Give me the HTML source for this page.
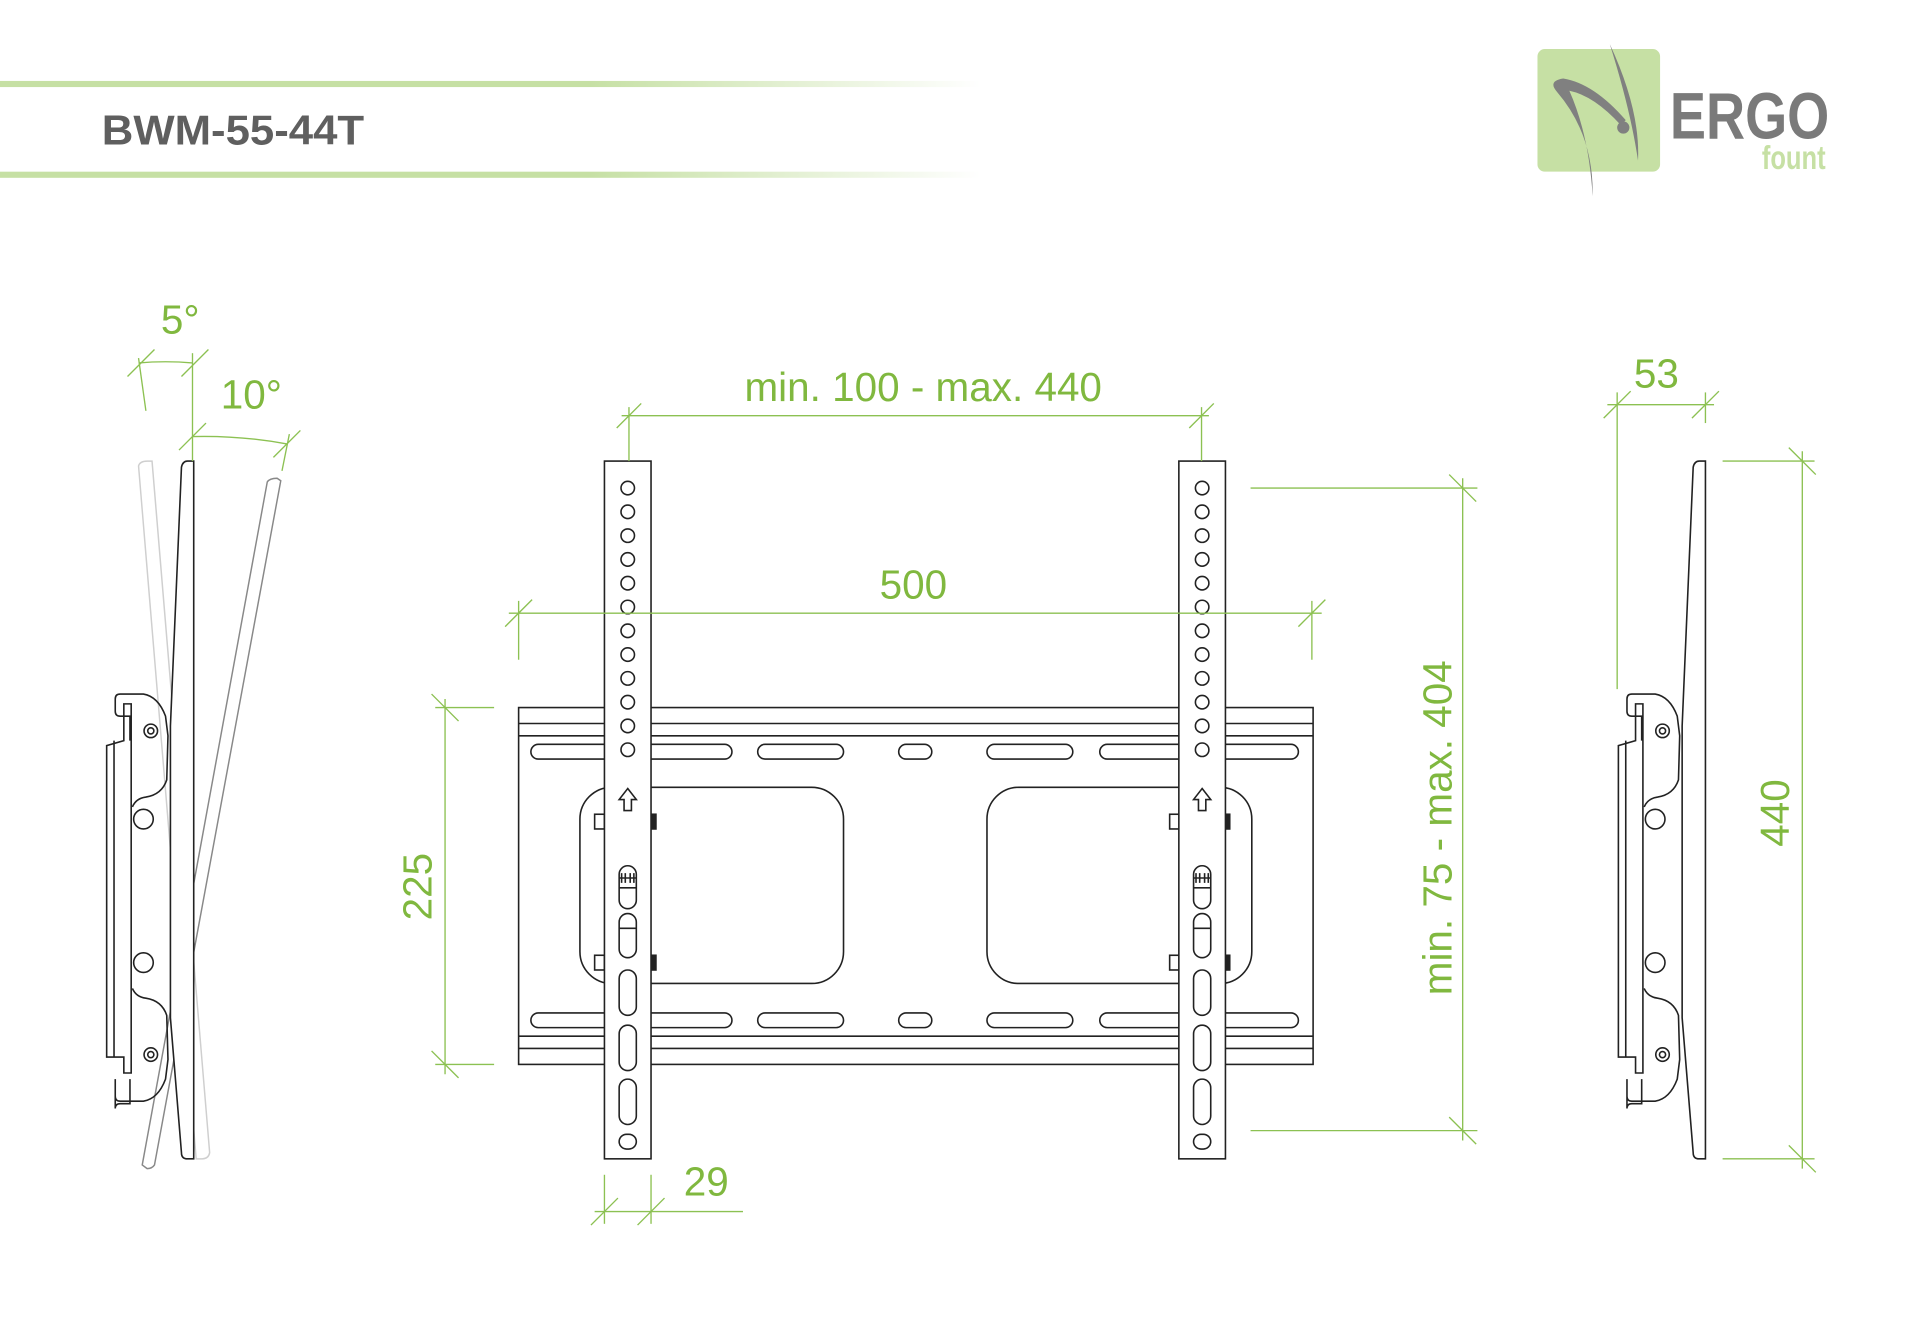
<!DOCTYPE html>
<html><head><meta charset="utf-8"><style>
html,body{margin:0;padding:0;background:#fff;}
svg{display:block;}
text{font-family:"Liberation Sans",sans-serif;}
</style></head><body>
<svg width="1920" height="1344" viewBox="0 0 1566 1096" preserveAspectRatio="none" xmlns="http://www.w3.org/2000/svg">
<defs>
<linearGradient id="hg" x1="0" x2="1" y1="0" y2="0">
<stop offset="0" stop-color="#c6e0a4"/><stop offset="0.6" stop-color="#c6e0a4"/><stop offset="1" stop-color="#fff"/>
</linearGradient>
<g id="side" fill="none" stroke="#222" stroke-width="1.3">
  <path d="M1391 376 L1391 945 L1386 945 Q1381 945 1381 940 L1372 830 L1372 592 L1381 381 Q1382 376 1386 376 Z" fill="#fff"/>
  <path d="M1339 604 L1339 584 L1331 584 Q1327 584 1327 580 L1327 570 Q1327 566 1331 566 L1350 566 Q1362 568 1368 584 L1370 600 L1369 636 Q1365 648 1352 650 Q1344 651 1341 658"/>
  <path d="M1339 880 L1339 900 L1331 900 Q1327 900 1327 904 L1327 894 M1327 880 L1327 894 Q1327 898 1331 898 L1350 898 Q1362 896 1368 880 L1370 864 L1369 828 Q1365 816 1352 814 Q1344 813 1341 806"/>
  <path d="M1320 608 L1320 862 L1334 862 L1334 875 L1340 875 L1340 574 L1334 574 L1334 604 Z"/>
  <line x1="1326" y1="604" x2="1326" y2="862"/>
  <circle cx="1356" cy="596" r="5.5"/><circle cx="1356" cy="596" r="2.5"/>
  <circle cx="1356" cy="860" r="5.5"/><circle cx="1356" cy="860" r="2.5"/>
  <circle cx="1350" cy="668" r="8"/><circle cx="1350" cy="785" r="8"/>
</g>
</defs>
<rect x="0" y="66" width="800" height="5" fill="url(#hg)"/>
<rect x="0" y="140" width="800" height="5" fill="url(#hg)"/>
<text x="83" y="118" font-size="34" font-weight="bold" fill="#5f5f5f" textLength="214" lengthAdjust="spacingAndGlyphs">BWM-55-44T</text>
<rect x="1254" y="40" width="100" height="100" rx="6" fill="#c6e0a4"/>
<path d="M1313 36 Q1338 90 1336 131 Q1330 90 1313 36 Z" fill="#808080"/>
<path d="M1299 160 Q1300 110 1270 75 Q1262 66 1275 64 Q1300 68 1326 98 L1322 102 Q1300 78 1280 74 Q1296 110 1299 160 Z" fill="#808080"/>
<circle cx="1324" cy="104" r="5" fill="#808080"/>
<text x="1362" y="113" font-size="54" font-weight="bold" fill="#7a7a7a" textLength="130" lengthAdjust="spacingAndGlyphs">ERGO</text>
<text x="1437" y="138" font-size="27" font-weight="bold" fill="#c6e0a4" textLength="52" lengthAdjust="spacingAndGlyphs">fount</text>

<use href="#side"/>
<g fill="none" stroke-width="1.2">
  <path d="M113 380 Q114 376 120 376 L124 376 L171 940 Q170 945 165 945 L160 945 Z" stroke="#cfcfcf"/>
  <path d="M218 393 Q220 390 226 390 L229 392 L126 950 Q124 953 120 953 L116 950 Z" stroke="#888"/>
</g>
<use href="#side" transform="translate(-1233 0)"/>

<g fill="#fff" stroke="#222" stroke-width="1.3">
  <rect x="423" y="577" width="648" height="291" />
  <line x1="423" y1="590" x2="1071" y2="590"/><line x1="423" y1="600" x2="1071" y2="600"/>
  <line x1="423" y1="845" x2="1071" y2="845"/><line x1="423" y1="855" x2="1071" y2="855"/>
  <rect x="433" y="607" width="164" height="12" rx="6"/><rect x="618" y="607" width="70" height="12" rx="6"/>
  <rect x="733" y="607" width="27" height="12" rx="6"/><rect x="805" y="607" width="70" height="12" rx="6"/>
  <rect x="897" y="607" width="162" height="12" rx="6"/>
  <rect x="433" y="826" width="164" height="12" rx="6"/><rect x="618" y="826" width="70" height="12" rx="6"/>
  <rect x="733" y="826" width="27" height="12" rx="6"/><rect x="805" y="826" width="70" height="12" rx="6"/>
  <rect x="897" y="826" width="162" height="12" rx="6"/>
  <rect x="473" y="642" width="215" height="160" rx="26"/>
  <rect x="805" y="642" width="216" height="160" rx="26"/>
  <rect x="485" y="664" width="8" height="12"/><rect x="485" y="779" width="8" height="12"/>
  <rect x="531" y="664" width="4" height="12" fill="#222"/><rect x="531" y="779" width="4" height="12" fill="#222"/>
  <rect x="954" y="664" width="8" height="12"/><rect x="954" y="779" width="8" height="12"/>
  <rect x="999" y="664" width="4" height="12" fill="#222"/><rect x="999" y="779" width="4" height="12" fill="#222"/>
</g>
<g id="strip" fill="#fff" stroke="#222" stroke-width="1.3">
  <rect x="493" y="376" width="38" height="569"/>
  <g fill="none">
    <circle cx="512" cy="398" r="5.5"/><circle cx="512" cy="417.4" r="5.5"/><circle cx="512" cy="436.8" r="5.5"/>
    <circle cx="512" cy="456.2" r="5.5"/><circle cx="512" cy="475.6" r="5.5"/><circle cx="512" cy="495" r="5.5"/>
    <circle cx="512" cy="514.4" r="5.5"/><circle cx="512" cy="533.8" r="5.5"/><circle cx="512" cy="553.2" r="5.5"/>
    <circle cx="512" cy="572.6" r="5.5"/><circle cx="512" cy="592" r="5.5"/><circle cx="512" cy="611.4" r="5.5"/>
    <path d="M512 643 L519 652 L515 652 L515 661 L509 661 L509 652 L505 652 Z"/>
    <rect x="505" y="706" width="14" height="35" rx="7"/><line x1="505" y1="724" x2="519" y2="724"/>
    <path d="M507 712 L507 720 M510 712 L510 720 M514 712 L514 720 M517 712 L517 720 M505 716 L519 716"/>
    <rect x="505" y="745" width="14" height="36" rx="7"/><line x1="505" y1="757" x2="519" y2="757"/>
    <rect x="505" y="791" width="14" height="37" rx="7"/>
    <rect x="505" y="836" width="14" height="37" rx="7"/>
    <rect x="505" y="880" width="14" height="37" rx="7"/>
    <rect x="505" y="925" width="14" height="12" rx="6"/>
  </g>
</g>
<use href="#strip" transform="translate(468.5 0)"/>

<g stroke="#8cc152" stroke-width="1.1" fill="none">
  <line x1="507" y1="339" x2="986" y2="339"/>
  <line x1="513" y1="332" x2="513" y2="376"/><line x1="980" y1="332" x2="980" y2="376"/>
  <line x1="503" y1="349" x2="523" y2="329"/><line x1="970" y1="349" x2="990" y2="329"/>
  <line x1="415" y1="500" x2="1078" y2="500"/>
  <line x1="423" y1="490" x2="423" y2="538"/><line x1="1070" y1="490" x2="1070" y2="538"/>
  <line x1="412" y1="511" x2="434" y2="489"/><line x1="1059" y1="511" x2="1081" y2="489"/>
  <line x1="363" y1="570" x2="363" y2="876"/>
  <line x1="355" y1="577" x2="403" y2="577"/><line x1="355" y1="868" x2="403" y2="868"/>
  <line x1="352" y1="566" x2="374" y2="588"/><line x1="352" y1="857" x2="374" y2="879"/>
  <line x1="485" y1="988" x2="606" y2="988"/>
  <line x1="493" y1="958" x2="493" y2="998"/><line x1="531" y1="958" x2="531" y2="998"/>
  <line x1="482" y1="999" x2="504" y2="977"/><line x1="520" y1="999" x2="542" y2="977"/>
  <line x1="1193" y1="390" x2="1193" y2="930"/>
  <line x1="1020" y1="398" x2="1205" y2="398"/><line x1="1020" y1="922" x2="1205" y2="922"/>
  <line x1="1182" y1="387" x2="1204" y2="409"/><line x1="1182" y1="911" x2="1204" y2="933"/>
  <line x1="1311" y1="330" x2="1398" y2="330"/>
  <line x1="1319" y1="320" x2="1319" y2="562"/><line x1="1391" y1="320" x2="1391" y2="345"/>
  <line x1="1308" y1="341" x2="1330" y2="319"/><line x1="1380" y1="341" x2="1402" y2="319"/>
  <line x1="1470" y1="368" x2="1470" y2="953"/>
  <line x1="1405" y1="376" x2="1480" y2="376"/><line x1="1405" y1="945" x2="1480" y2="945"/>
  <line x1="1459" y1="365" x2="1481" y2="387"/><line x1="1459" y1="934" x2="1481" y2="956"/>
  <line x1="157" y1="288" x2="157" y2="376"/>
  <path d="M113 296 Q135 294 157 296"/>
  <line x1="113" y1="292" x2="119" y2="335"/>
  <line x1="104" y1="307" x2="126" y2="285"/><line x1="148" y1="307" x2="170" y2="285"/>
  <path d="M157 356 Q196 355 234 362"/>
  <line x1="236" y1="354" x2="230" y2="384"/>
  <line x1="146" y1="367" x2="168" y2="345"/><line x1="223" y1="373" x2="245" y2="351"/>
</g>
<g fill="#80b83f" font-size="33">
  <text x="753" y="327" text-anchor="middle">min. 100 - max. 440</text>
  <text x="745" y="488" text-anchor="middle">500</text>
  <text x="576" y="975" text-anchor="middle">29</text>
  <text x="1351" y="316" text-anchor="middle">53</text>
  <text x="147" y="272" text-anchor="middle">5°</text>
  <text x="205" y="333" text-anchor="middle">10°</text>
  <text transform="translate(352 723) rotate(-90)" text-anchor="middle">225</text>
  <text transform="translate(1184 675) rotate(-90)" text-anchor="middle">min. 75 - max. 404</text>
  <text transform="translate(1459 663) rotate(-90)" text-anchor="middle">440</text>
</g>
</svg>
</body></html>
